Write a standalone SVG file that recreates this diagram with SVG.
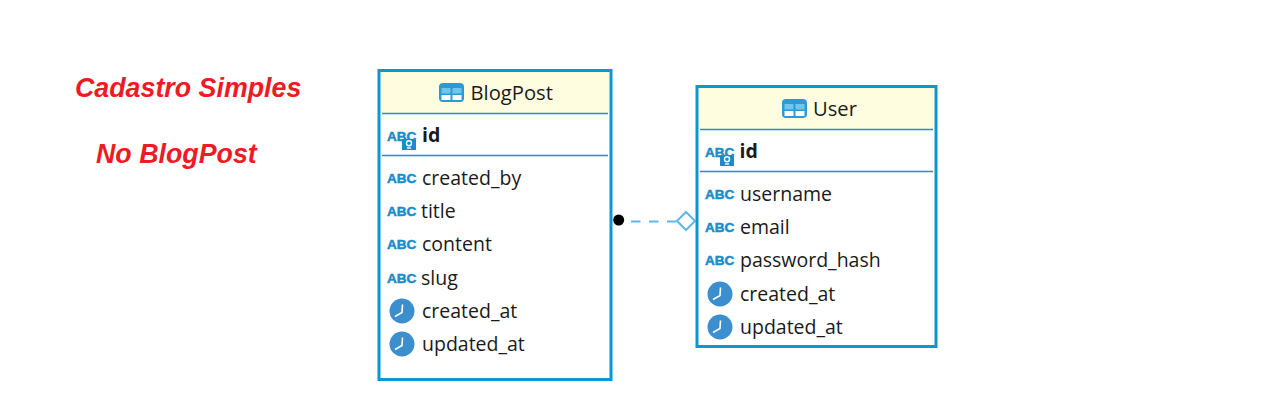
<svg xmlns="http://www.w3.org/2000/svg" width="1280" height="415" viewBox="0 0 1280 415">
<style>
.box{fill:#fff;stroke:#0b97d1;stroke-width:3}
.head{fill:#fffde0}
.sep{stroke:#0b97d1;stroke-width:1.5;fill:none}
.t{font-family:"Open Sans","Noto Sans",sans-serif;font-size:19.5px;fill:#1a1a1a}
.h{font-size:20.2px}
.b{font-weight:700}
.abc{font-family:"Liberation Sans",sans-serif;font-weight:700;font-size:13.5px;fill:#1a8cc8;stroke:#1a8cc8;stroke-width:.5}
.title{font-family:"Liberation Sans",sans-serif;font-weight:700;font-style:italic;font-size:26.8px;fill:#ed1c24}
</style>
<defs>
<g id="tbl"><rect x="0" y="0" width="25" height="19" rx="4" fill="#2a9bd4"/><rect x="2.500" y="5" width="9" height="5.500" fill="#6cc6ee"/><rect x="13.500" y="5" width="9" height="5.500" fill="#6cc6ee"/><rect x="2.500" y="12" width="9" height="5" fill="#fff"/><rect x="13.500" y="12" width="9" height="5" fill="#fff"/></g>
<g id="clock"><circle cx="13" cy="13" r="12.500" fill="#3b8fcf"/><path d="M13.500 6.500 L13 14.500 L6 18.500" fill="none" stroke="#fff" stroke-width="1.600"/></g>
<g id="key"><rect x="0" y="0" width="14" height="11" fill="#1a8cc8"/><circle cx="7" cy="4.300" r="2.500" fill="none" stroke="#fff" stroke-width="1.400"/><path d="M5 9H9" stroke="#fff" stroke-width="1.400"/></g>
</defs>
<text class="title" x="75" y="96.500">Cadastro Simples</text>
<text class="title" x="96" y="162.500">No BlogPost</text>
<g id="connectors">
<path d="M631 221.500H677" fill="none" stroke="#5fb8e4" stroke-width="2" stroke-dasharray="9.500 8.500"/>
<circle cx="618.700" cy="220" r="5.500" fill="#000"/>
<path d="M677 221L686 212L695 221L686 230Z" fill="#fff" stroke="#5fb8e4" stroke-width="2"/>
</g>
<g id="node-blogpost">
<rect class="box" x="379" y="70.500" width="232" height="309"/>
<rect class="head" x="381" y="72" width="228" height="41"/>
<path class="sep" d="M382 113.500H608M382 155.500H608"/>
<use href="#tbl" x="439" y="83"/>
<text class="t h" x="470.500" y="100">BlogPost</text>
<text class="abc" x="387" y="140.500">ABC</text><use href="#key" x="402" y="139"/>
<text class="t b" x="422" y="142">id</text>
<text class="abc" x="387" y="182.500">ABC</text><text class="t" x="422" y="185">created_by</text>
<text class="abc" x="387" y="215.500">ABC</text><text class="t" x="421" y="218">title</text>
<text class="abc" x="387" y="248.500">ABC</text><text class="t" x="422" y="251">content</text>
<text class="abc" x="387" y="282.500">ABC</text><text class="t" x="421" y="284.500">slug</text>
<use href="#clock" x="389" y="298"/><text class="t" x="422" y="318">created_at</text>
<use href="#clock" x="389" y="331"/><text class="t" x="422" y="351">updated_at</text>
</g>
<g id="node-user">
<rect class="box" x="697" y="86.500" width="239" height="260"/>
<rect class="head" x="699" y="88" width="235" height="41"/>
<path class="sep" d="M700 129.500H933M700 171.500H933"/>
<use href="#tbl" x="782" y="99"/>
<text class="t h" x="813" y="116">User</text>
<text class="abc" x="705" y="156.500">ABC</text><use href="#key" x="720" y="155"/>
<text class="t b" x="739.500" y="158">id</text>
<text class="abc" x="705" y="198.500">ABC</text><text class="t" x="740" y="200.500">username</text>
<text class="abc" x="705" y="231.500">ABC</text><text class="t" x="740" y="234">email</text>
<text class="abc" x="705" y="264.500">ABC</text><text class="t" x="740" y="267">password_hash</text>
<use href="#clock" x="707" y="281"/><text class="t" x="740" y="300.500">created_at</text>
<use href="#clock" x="707" y="314"/><text class="t" x="740" y="334">updated_at</text>
</g>
</svg>
